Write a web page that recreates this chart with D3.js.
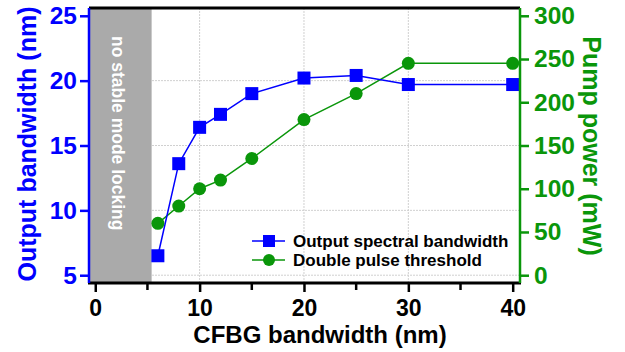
<!DOCTYPE html>
<html>
<head>
<meta charset="utf-8">
<script src="https://cdn.jsdelivr.net/npm/d3@7"></script>
<style>
  body { margin: 0; background: #fff; }
  text { font-family: "Liberation Sans", Arial, sans-serif; font-weight: bold; }
</style>
</head>
<body>
<div id="chart"></div>
<script>
/* Data */
var cfbg = [6, 8, 10, 12, 15, 20, 25, 30, 40];
var outputBw = [6.5, 13.6, 16.4, 17.4, 19.0, 20.2, 20.4, 19.7, 19.7];
var pumpPower = [60, 80, 100, 110, 135, 180, 210, 245, 245];
var xTicks = [0, 10, 20, 30, 40];
var xMinor = [5, 15, 25, 35];
var leftTicks = [5, 10, 15, 20, 25];
var rightTicks = [0, 50, 100, 150, 200, 250, 300];
var noLockEnd = 5.4;

var blue = "#0000ff", green = "#0a960a";

/* Plot frame (plotTop, not top: window.top is taken) */
var width = 625, height = 352;
var plotLeft = 89, plotRight = 520, plotTop = 8, plotBottom = 283;

var svg = d3.select("#chart").append("svg")
    .attr("width", width).attr("height", height);

var x = d3.scaleLinear().domain([-0.6, 40.7]).range([plotLeft, plotRight]);
var yL = d3.scaleLinear().domain([4.4, 25.6]).range([plotBottom, plotTop]);
var yR = d3.scaleLinear().domain([-9, 309]).range([plotBottom, plotTop]);

/* grid */
var grid = svg.append("g").attr("stroke", "#d0d0d0").attr("stroke-width", 1)
    .attr("stroke-dasharray", "2,1");
grid.selectAll("line.v").data([10, 20, 30]).enter().append("line")
    .attr("x1", x).attr("x2", x).attr("y1", plotTop).attr("y2", plotBottom);
grid.selectAll("line.h").data([5, 10, 15, 20]).enter().append("line")
    .attr("x1", plotLeft).attr("x2", plotRight)
    .attr("y1", yL).attr("y2", yL);

/* gray region */
svg.append("rect")
    .attr("x", plotLeft).attr("y", plotTop)
    .attr("width", x(noLockEnd) - plotLeft).attr("height", plotBottom - plotTop)
    .attr("fill", "#aaaaaa");

svg.append("text")
    .attr("transform", "translate(" + ((plotLeft + x(noLockEnd)) / 2 - 2) + ",36) rotate(90)")
    .attr("dy", "0.35em")
    .attr("fill", "#fff")
    .style("font-size", "17.5px")
    .text("no stable mode locking");

/* series lines */
var blueLine = d3.line().x(function(d, i) { return x(cfbg[i]); }).y(function(d) { return yL(d); });
var greenLine = d3.line().x(function(d, i) { return x(cfbg[i]); }).y(function(d) { return yR(d); });

svg.append("path").datum(pumpPower).attr("d", greenLine)
    .attr("fill", "none").attr("stroke", green).attr("stroke-width", 1.5);
svg.append("path").datum(outputBw).attr("d", blueLine)
    .attr("fill", "none").attr("stroke", blue).attr("stroke-width", 1.5);

svg.selectAll("circle.pp").data(pumpPower).enter().append("circle")
    .attr("cx", function(d, i) { return x(cfbg[i]); })
    .attr("cy", function(d) { return yR(d); })
    .attr("r", 6.5).attr("fill", green);

var sq = 13;
svg.selectAll("rect.bw").data(outputBw).enter().append("rect")
    .attr("x", function(d, i) { return x(cfbg[i]) - sq / 2; })
    .attr("y", function(d) { return yL(d) - sq / 2; })
    .attr("width", sq).attr("height", sq).attr("fill", blue);

/* axes */
var xAxis = svg.append("g").attr("transform", "translate(0," + plotBottom + ")")
    .call(d3.axisBottom(x).tickValues(xTicks).tickSize(9).tickPadding(8).tickFormat(d3.format("d")));
xAxis.select(".domain").remove();
xAxis.selectAll(".tick line").attr("stroke", "#000").attr("stroke-width", 2.5);
xAxis.selectAll("text").attr("fill", "#000").style("font-size", "23px");
svg.append("g").attr("transform", "translate(0," + plotBottom + ")")
    .selectAll("line").data(xMinor).enter().append("line")
    .attr("x1", x).attr("x2", x).attr("y1", 0).attr("y2", 7)
    .attr("stroke", "#000").attr("stroke-width", 2.5);

var lAxis = svg.append("g").attr("transform", "translate(" + plotLeft + ",0)")
    .call(d3.axisLeft(yL).tickValues(leftTicks).tickSize(9).tickPadding(3));
lAxis.select(".domain").remove();
lAxis.selectAll(".tick line").attr("stroke", blue).attr("stroke-width", 2.5);
lAxis.selectAll("text").attr("fill", blue).style("font-size", "24.5px");

var rAxis = svg.append("g").attr("transform", "translate(" + plotRight + ",0)")
    .call(d3.axisRight(yR).tickValues(rightTicks).tickSize(9).tickPadding(5));
rAxis.select(".domain").remove();
rAxis.selectAll(".tick line").attr("stroke", green).attr("stroke-width", 2.5);
rAxis.selectAll("text").attr("fill", green).style("font-size", "24.5px");

/* frame */
svg.append("line").attr("x1", plotLeft).attr("x2", plotRight).attr("y1", plotTop).attr("y2", plotTop)
    .attr("stroke", "#000").attr("stroke-width", 3);
svg.append("line").attr("x1", plotLeft - 1).attr("x2", plotRight + 1).attr("y1", plotBottom).attr("y2", plotBottom)
    .attr("stroke", "#000").attr("stroke-width", 3);
svg.append("line").attr("x1", plotLeft).attr("x2", plotLeft).attr("y1", plotTop).attr("y2", plotBottom)
    .attr("stroke", blue).attr("stroke-width", 2.5);
svg.append("line").attr("x1", plotRight).attr("x2", plotRight).attr("y1", plotTop).attr("y2", plotBottom)
    .attr("stroke", green).attr("stroke-width", 2.5);

/* axis titles */
svg.append("text")
    .attr("transform", "translate(27,144) rotate(-90)")
    .attr("text-anchor", "middle").attr("dy", "0.35em")
    .attr("fill", blue).style("font-size", "25px")
    .text("Output bandwidth (nm)");
svg.append("text")
    .attr("transform", "translate(592,146) rotate(90)")
    .attr("text-anchor", "middle").attr("dy", "0.35em")
    .attr("fill", green).style("font-size", "25px")
    .text("Pump power (mW)");
svg.append("text")
    .attr("x", 320).attr("y", 343)
    .attr("text-anchor", "middle")
    .attr("fill", "#000").style("font-size", "24px")
    .text("CFBG bandwidth (nm)");

/* legend */
var legend = [
  {name: "Output spectral bandwidth", color: blue, shape: "square"},
  {name: "Double pulse threshold", color: green, shape: "circle"}
];
var leg = svg.selectAll("g.leg").data(legend).enter().append("g")
    .attr("transform", function(d, i) { return "translate(252," + (241 + i * 19) + ")"; });
leg.append("line").attr("x1", 0).attr("x2", 33).attr("y1", 0).attr("y2", 0)
    .attr("stroke", function(d) { return d.color; }).attr("stroke-width", 1.5);
leg.filter(function(d) { return d.shape === "square"; }).append("rect")
    .attr("x", 11).attr("y", -6).attr("width", 12).attr("height", 12)
    .attr("fill", function(d) { return d.color; });
leg.filter(function(d) { return d.shape === "circle"; }).append("circle")
    .attr("cx", 17).attr("cy", 0).attr("r", 6)
    .attr("fill", function(d) { return d.color; });
leg.append("text").attr("x", 41).attr("dy", "0.35em")
    .attr("fill", "#000").style("font-size", "17px")
    .text(function(d) { return d.name; });
</script>
</body>
</html>
